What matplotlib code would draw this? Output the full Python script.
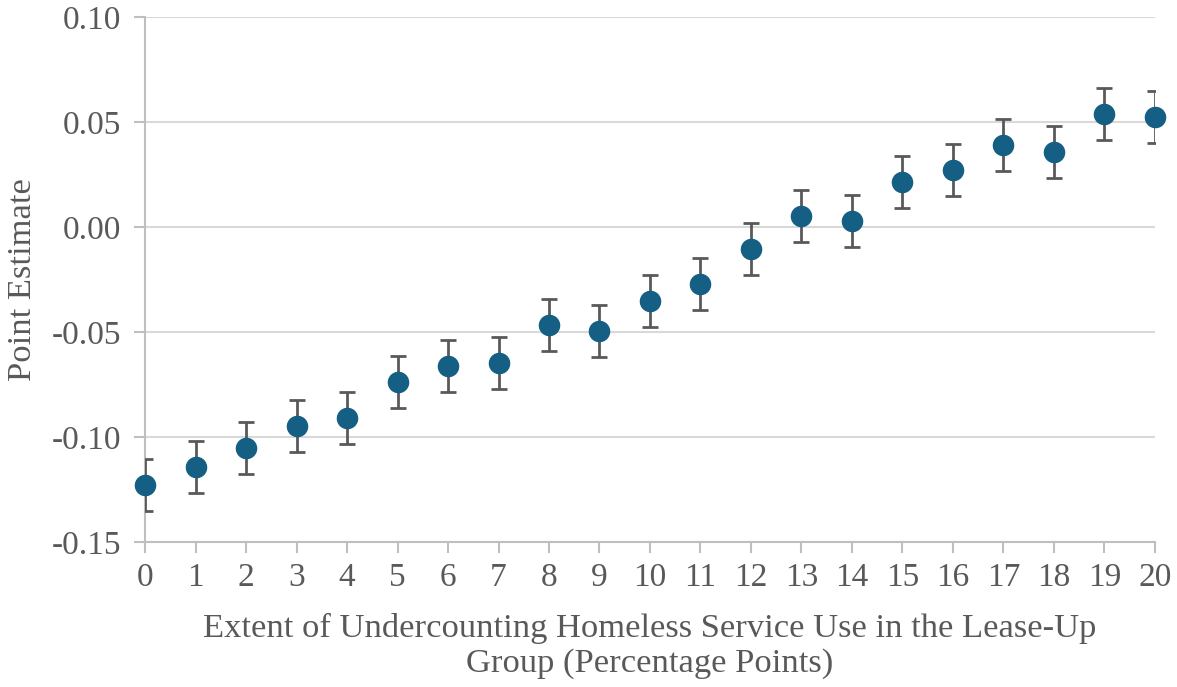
import matplotlib
matplotlib.use("Agg")
from matplotlib import pyplot as plt
import numpy as np

x = list(range(21))
estimates = [-0.1229, -0.1143, -0.1052, -0.0948, -0.0910, -0.0738, -0.0662, -0.0648,
             -0.0467, -0.0495, -0.0352, -0.0271, -0.0105, 0.0052, 0.0029, 0.0214,
             0.0271, 0.0390, 0.0357, 0.0538, 0.0524]
err = [0.0124] * 21
yticks = [-0.15, -0.10, -0.05, 0.00, 0.05, 0.10]

def main():
    plt.rcParams['font.family'] = ['Liberation Serif', 'DejaVu Serif']
    txt = '#595959'
    fig = plt.figure(figsize=(11.77, 6.87), dpi=100)
    ax = fig.add_axes([0.1232, 0.2111, 0.8581, 0.7642])

    ax.errorbar(x, estimates, yerr=err, fmt='none', ecolor='#595959',
                elinewidth=2, capsize=5.5, capthick=2, zorder=3)
    ax.plot(x, estimates, 'o', color='#155f84', markersize=14.5, zorder=4, clip_on=False)

    ax.set_xlim(0, 20)
    ax.set_ylim(-0.15, 0.10)
    ax.set_xticks(x)
    ax.set_yticks(yticks)
    ax.set_yticklabels(['%.2f' % v for v in yticks])
    ax.grid(True, axis='y', color='#d9d9d9', linewidth=1.5)
    ax.set_axisbelow(True)

    for s in ['top', 'right']:
        ax.spines[s].set_visible(False)
    for s in ['left', 'bottom']:
        ax.spines[s].set_color('#bfbfbf')
        ax.spines[s].set_linewidth(1.5)
    ax.tick_params(axis='both', colors='#bfbfbf', labelcolor=txt, labelsize=24,
                   length=8, width=1.5)
    ax.tick_params(axis='x', pad=7)
    ax.tick_params(axis='y', length=8, pad=9)

    ax.set_xlabel('Extent of Undercounting Homeless Service Use in the Lease-Up\nGroup (Percentage Points)',
                  fontsize=24.8, color=txt, labelpad=14)
    ax.set_ylabel('Point Estimate', fontsize=24.8, color=txt, labelpad=10)

    fig.savefig('out.png', dpi=100)

if __name__ == "__main__":
    main()
